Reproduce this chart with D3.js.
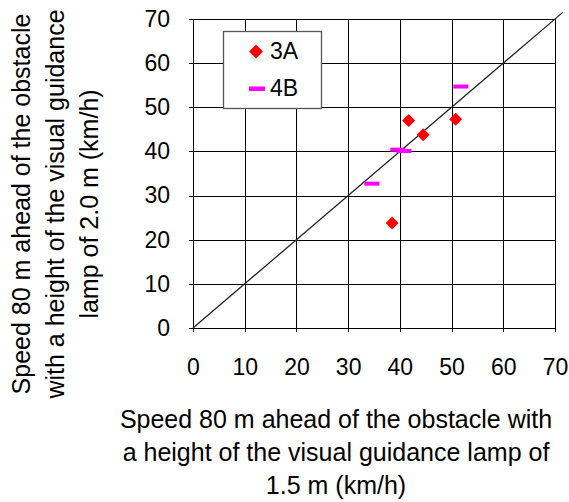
<!DOCTYPE html>
<html>
<head>
<meta charset="utf-8">
<script src="https://cdn.jsdelivr.net/npm/d3@7/dist/d3.min.js"></script>
<style>
  html, body { margin: 0; padding: 0; background: #fff; }
  svg text { font-family: Arial, "Liberation Sans", sans-serif; fill: #000; }
</style>
</head>
<body>
<svg id="chart" width="569" height="502"></svg>
<script>
// Speeds (km/h) 80 m ahead of the obstacle: lamp at 1.5 m (x) vs lamp at 2.0 m (y)
const seriesNames = ["3A", "4B"];
const series3A_x = [41.7, 44.5, 50.8, 38.5];
const series3A_y = [47.0, 43.8, 47.3, 23.8];
const series4B_x = [51.8, 39.6, 40.8, 34.6];
const series4B_y = [54.7, 40.4, 40.1, 32.7];
const tickValues = [0, 10, 20, 30, 40, 50, 60, 70];
const diagonal = [0, 71.5];

const xTitleLines = [
  "Speed 80 m ahead of the obstacle with",
  "a height of the visual guidance lamp of",
  "1.5 m (km/h)"
];
const yTitleLines = [
  "Speed 80 m ahead of the obstacle",
  "with a height of the visual guidance",
  "lamp of 2.0 m (km/h)"
];

const svg = d3.select("#chart");
const plotL = 193, plotR = 555, plotT = 19, plotB = 328;
const tickFont = 23, titleFont = 25;

const x = d3.scaleLinear().domain([0, 70]).range([plotL, plotR]);
const y = d3.scaleLinear().domain([0, 70]).range([plotB, plotT]);

// grid
const grid = svg.append("g").attr("stroke", "#000").attr("stroke-width", 1).attr("shape-rendering", "crispEdges");
grid.selectAll("line.v").data(tickValues).join("line").attr("class", "v")
  .attr("x1", d => Math.round(x(d)) + 0.5).attr("x2", d => Math.round(x(d)) + 0.5)
  .attr("y1", y(70)).attr("y2", y(0) + 4);
grid.selectAll("line.h").data(tickValues).join("line").attr("class", "h")
  .attr("y1", d => Math.round(y(d)) + 0.5).attr("y2", d => Math.round(y(d)) + 0.5)
  .attr("x1", x(0) - 4).attr("x2", x(70));

// tick labels from d3 axes (axis lines removed)
const xAxis = svg.append("g")
  .attr("transform", `translate(0,${plotB})`)
  .call(d3.axisBottom(x).tickValues(tickValues).tickSize(0).tickPadding(31));
xAxis.select(".domain").remove();
xAxis.selectAll("text").attr("font-size", tickFont).attr("font-family", "Arial, Liberation Sans, sans-serif").attr("fill", "#000");

const yAxis = svg.append("g")
  .attr("transform", `translate(${plotL},0)`)
  .call(d3.axisLeft(y).tickValues(tickValues).tickSize(0).tickPadding(23));
yAxis.select(".domain").remove();
yAxis.selectAll("text").attr("font-size", tickFont).attr("font-family", "Arial, Liberation Sans, sans-serif").attr("fill", "#000");

// 1:1 line
svg.append("line")
  .attr("x1", x(diagonal[0])).attr("y1", y(diagonal[0]))
  .attr("x2", x(diagonal[1])).attr("y2", y(diagonal[1]))
  .attr("stroke", "#222").attr("stroke-width", 1.3);

// series 3A: red diamonds
const diamond = s => `M0,${-s}L${s},0L0,${s}L${-s},0Z`;
svg.append("g").selectAll("path")
  .data(series3A_x.map((v, i) => [v, series3A_y[i]]))
  .join("path")
  .attr("d", diamond(6.5))
  .attr("transform", d => `translate(${x(d[0])},${y(d[1])})`)
  .attr("fill", "#ff0000");

// series 4B: magenta dashes
svg.append("g").selectAll("rect")
  .data(series4B_x.map((v, i) => [v, series4B_y[i]]))
  .join("rect")
  .attr("x", d => x(d[0]) - 7.5).attr("y", d => y(d[1]) - 2)
  .attr("width", 15).attr("height", 4)
  .attr("fill", "#ff00ff");

// legend
const lg = svg.append("g");
lg.append("rect").attr("x", 223.5).attr("y", 31.5).attr("width", 98).attr("height", 77)
  .attr("fill", "#fff").attr("stroke", "#555").attr("stroke-width", 1.3);
lg.append("path").attr("d", diamond(7)).attr("transform", "translate(256,51.5)").attr("fill", "#ff0000");
lg.append("rect").attr("x", 249).attr("y", 86.5).attr("width", 16).attr("height", 4.5).attr("fill", "#ff00ff");
lg.append("text").attr("x", 270).attr("y", 59).attr("font-size", tickFont).text(seriesNames[0]);
lg.append("text").attr("x", 270).attr("y", 96).attr("font-size", tickFont).text(seriesNames[1]);

// axis titles
svg.append("g").selectAll("text").data(xTitleLines).join("text")
  .attr("x", 336).attr("y", (d, i) => 428 + i * 33)
  .attr("text-anchor", "middle").attr("font-size", titleFont).text(d => d);

svg.append("g").selectAll("text").data(yTitleLines).join("text")
  .attr("transform", (d, i) => `translate(${30 + i * 34},204) rotate(-90)`)
  .attr("text-anchor", "middle").attr("font-size", titleFont).text(d => d);
</script>
</body>
</html>
